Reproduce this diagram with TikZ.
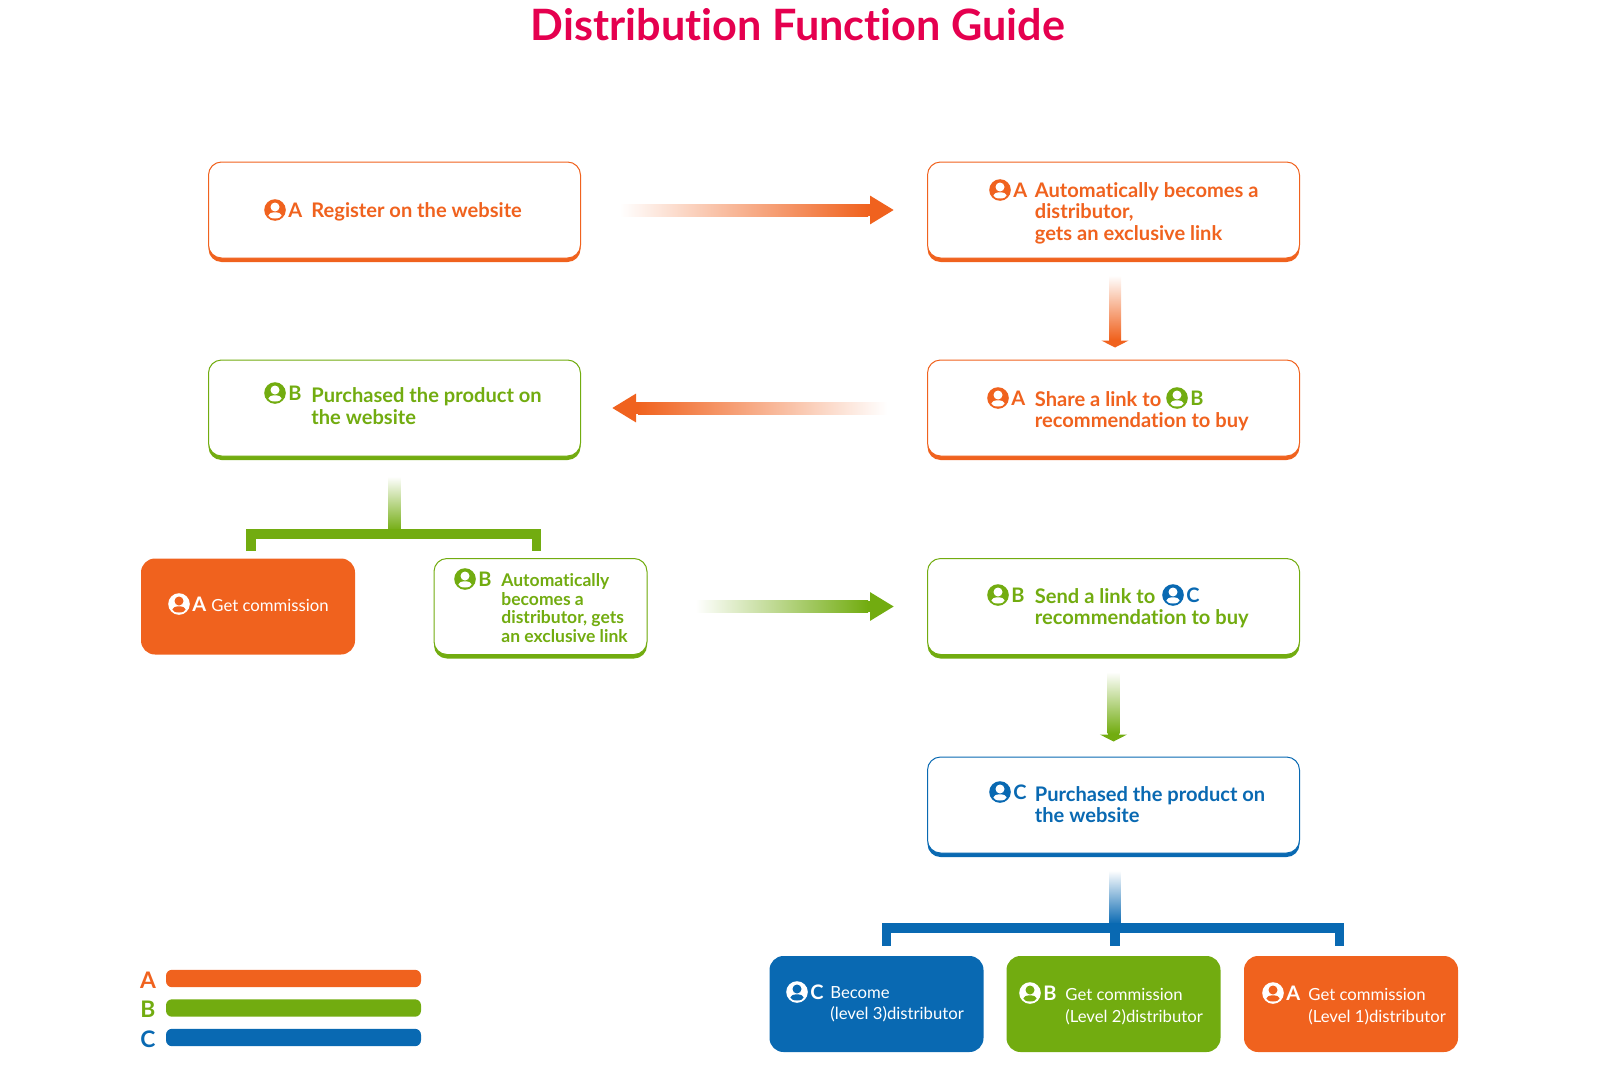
\documentclass[tikz,border=0pt]{standalone}
\usepackage{fontspec}
\setmainfont{Lato}[BoldFont={Lato Bold},Ligatures=NoCommon]
\usepackage{xcolor}
\usetikzlibrary{arrows.meta,calc,shadows,shapes.geometric}
\definecolor{guideRed}{HTML}{E5004F}
\definecolor{guideOrange}{HTML}{F0621E}
\definecolor{guideGreen}{HTML}{72AC10}
\definecolor{guideBlue}{HTML}{0969B2}
\tikzset{
  >=Latex,
  font=\bfseries,
  % outline cards with a thick lower edge
  card/.style={
    rounded corners=6.5pt,
    fill=white,
    draw=#1,
    line width=0.5pt,
    minimum width=186pt,
    minimum height=48pt,
    general shadow={fill=#1,shadow xshift=0pt,shadow yshift=-2pt}
  },
  smallcard/.style={
    card=#1,
    minimum width=106.5pt
  },
  % solid cards
  solidcard/.style={
    rounded corners=7pt,
    fill=#1,
    minimum width=107pt,
    minimum height=48pt
  },
  cardtext/.style={
    anchor=west,
    inner sep=0pt,
    align=left,
    text=#1,
    font=\fontsize{10.05}{10.7}\bfseries\selectfont
  },
  smalltext/.style={
    anchor=west,
    inner sep=0pt,
    align=left,
    text=#1,
    font=\fontsize{8.75}{9.2}\bfseries\selectfont
  },
  soliditem/.style={
    anchor=west,
    inner sep=0pt,
    align=left,
    text=white,
    font=\fontsize{8.35}{10.7}\selectfont
  },
  tagletter/.style={
    anchor=west,
    inner sep=0pt,
    text=#1,
    font=\fontsize{10}{10.7}\bfseries\selectfont
  },
  bracket/.style={
    line width=4.6pt,
    draw=#1,
    line cap=butt,
    line join=miter
  },
  legendbar/.style={
    rounded corners=3pt,
    fill=#1,
    minimum width=127.5pt,
    minimum height=8.7pt,
    inner sep=0pt
  },
  legendkey/.style={
    text=#1,
    inner sep=0pt,
    font=\fontsize{11.4}{12}\bfseries\selectfont
  },
  headarrow/.style={
    -{Triangle[length=12pt,width=13.5pt]},
    line width=5.8pt,
    draw=#1
  },
  flatarrow/.style={
    -{Triangle[length=3.5pt,width=13.5pt]},
    line width=5.8pt,
    draw=#1
  },
  pics/whotag/.style n args={3}{
    code={
      \fill[#1] (0,0) circle (5.4pt);
      \fill[#2] (0,-3) circle (4.5);
      \fill[#2] (0,5.4) ellipse (6.6 and 3.1);
      \node[tagletter=#1] (-letter) at (13,0) {#3};
    }
  }
}
% faded body and solid head of one arrow
\newcommand{\fadearrow}[6]{%
  \coordinate (#3mid) at ($(#4)!#6!(#3)$);
  \shade[#2] ($(#3)!3pt!90:(#4)$) rectangle ($(#3mid)!3pt!90:(#3)$);
  \draw[#5=#1] (#3mid) -- (#4);
}

\begin{document}
\begin{tikzpicture}[x=0.5pt,y=-0.5pt]
\useasboundingbox (0,0) rectangle (1600,1065);

\node[text=guideRed,font=\fontsize{21.6}{22}\bfseries\selectfont] (title) at (798,25) {Distribution Function Guide};

% cards
\node[card=guideOrange] (register) at (394.5,210) {};
\node[card=guideOrange] (distA) at (1113.5,210) {};
\node[card=guideOrange] (shareA) at (1113.5,408) {};
\node[card=guideGreen] (buyB) at (394.5,408) {};
\node[card=guideGreen] (sendB) at (1113.5,606.5) {};
\node[card=guideBlue] (buyC) at (1113.5,805) {};
\node[smallcard=guideGreen] (distB) at (540.5,606.5) {};
\node[solidcard=guideOrange] (commA) at (248,606.5) {};
\node[solidcard=guideBlue] (becomeC) at (876.5,1004) {};
\node[solidcard=guideGreen] (levelB) at (1113.5,1004) {};
\node[solidcard=guideOrange] (levelA) at (1351,1004) {};

% card texts
\pic (t1) at (275,210) {whotag={guideOrange}{white}{A}};
\node[cardtext=guideOrange] (register text) at (311,212) {Register on the website};

\pic (t2) at (1000,190) {whotag={guideOrange}{white}{A}};
\node[cardtext=guideOrange] (distA text) at (1034.5,213) {Automatically becomes a\\distributor,\\gets an exclusive link};

\pic (t3) at (998,398) {whotag={guideOrange}{white}{A}};
\node[cardtext=guideOrange] (shareA text) at (1034.5,411.5) {Share a link to\\recommendation to buy};
\pic (t4) at (1177,398) {whotag={guideGreen}{white}{B}};

\pic (t5) at (275,393) {whotag={guideGreen}{white}{B}};
\node[cardtext=guideGreen] (buyB text) at (311,406) {Purchased the product on\\the website};

\pic (t6) at (465,579) {whotag={guideGreen}{white}{B}};
\node[smalltext=guideGreen] (distB text) at (501,608) {Automatically\\becomes a\\distributor, gets\\an exclusive link};

\pic (t7) at (179,604) {whotag={white}{guideOrange}{A}};
\node[soliditem] (commA text) at (211,605) {Get commission};

\pic (t8) at (998,595) {whotag={guideGreen}{white}{B}};
\node[cardtext=guideGreen] (sendB text) at (1034.5,608.5) {Send a link to\\recommendation to buy};
\pic (t9) at (1173,595) {whotag={guideBlue}{white}{C}};

\pic (t10) at (1000,792) {whotag={guideBlue}{white}{C}};
\node[cardtext=guideBlue] (buyC text) at (1034.5,804.5) {Purchased the product on\\the website};

\pic (t11) at (797,992) {whotag={white}{guideBlue}{C}};
\node[soliditem] (becomeC text) at (830,1004.5) {Become\\(level 3)distributor};

\pic (t12) at (1030,993) {whotag={white}{guideGreen}{B}};
\node[soliditem] (levelB text) at (1065,1006.5) {Get commission\\(Level 2)distributor};

\pic (t13) at (1273,993) {whotag={white}{guideOrange}{A}};
\node[soliditem] (levelA text) at (1308,1006.5) {Get commission\\(Level 1)distributor};

% arrows
\coordinate (a1) at ($(register.east)+(39,0)$);
\coordinate (a1end) at ($(distA.west)+(-33,0)$);
\fadearrow{guideOrange}{left color=white,right color=guideOrange}{a1}{a1end}{headarrow}{13pt}

\coordinate (a2) at ($(distA.south)+(1.5,17)$);
\coordinate (a2end) at ($(shareA.north)+(1.5,-12)$);
\fadearrow{guideOrange}{top color=white,bottom color=guideOrange}{a2}{a2end}{flatarrow}{4pt}

\coordinate (a3) at ($(shareA.west)+(-40,0)$);
\coordinate (a3end) at ($(buyB.east)+(31,0)$);
\fadearrow{guideOrange}{right color=white,left color=guideOrange}{a3}{a3end}{headarrow}{13pt}

\coordinate (a4) at ($(distB.east)+(48,0)$);
\coordinate (a4end) at ($(sendB.west)+(-33,0)$);
\fadearrow{guideGreen}{left color=white,right color=guideGreen}{a4}{a4end}{headarrow}{13pt}

\coordinate (a5) at ($(sendB.south)+(0,17)$);
\coordinate (a5end) at ($(buyC.north)+(0,-15)$);
\fadearrow{guideGreen}{top color=white,bottom color=guideGreen}{a5}{a5end}{flatarrow}{4pt}

% brackets
\coordinate (gtop) at ($(buyB.south)+(0,20)$);
\coordinate (gbar) at (394.5,534);
\coordinate (g1) at ($(commA.north)+(3,-7)$);
\coordinate (g2) at ($(distB.north)+(-4,-7)$);
\shade[top color=white,bottom color=guideGreen] ($(gtop)+(-6,0)$) rectangle ($(gbar)+(6,-3)$);
\draw[bracket=guideGreen] (g1) |- (gbar) -| (g2);

\coordinate (btop) at ($(buyC.south)+(1.5,17)$);
\coordinate (bbar) at (1115,928);
\coordinate (b1) at ($(becomeC.north)+(10,-10)$);
\coordinate (b2) at ($(levelB.north)+(1.5,-10)$);
\coordinate (b3) at ($(levelA.north)+(-11.5,-10)$);
\shade[top color=white,bottom color=guideBlue] ($(btop)+(-5.5,0)$) rectangle ($(bbar)+(5.5,-4)$);
\draw[bracket=guideBlue] (b1) |- (bbar) -| (b3);
\draw[bracket=guideBlue] (bbar) -- (b2);

% legend
\node[legendbar=guideOrange] (barA) at (293.5,978.5) {};
\node[legendbar=guideGreen] (barB) at (293.5,1008) {};
\node[legendbar=guideBlue] (barC) at (293.5,1037.5) {};
\node[legendkey=guideOrange] (keyA) at (148,980) {A};
\node[legendkey=guideGreen] (keyB) at (148,1009.5) {B};
\node[legendkey=guideBlue] (keyC) at (148,1039.5) {C};

\end{tikzpicture}
\end{document}
